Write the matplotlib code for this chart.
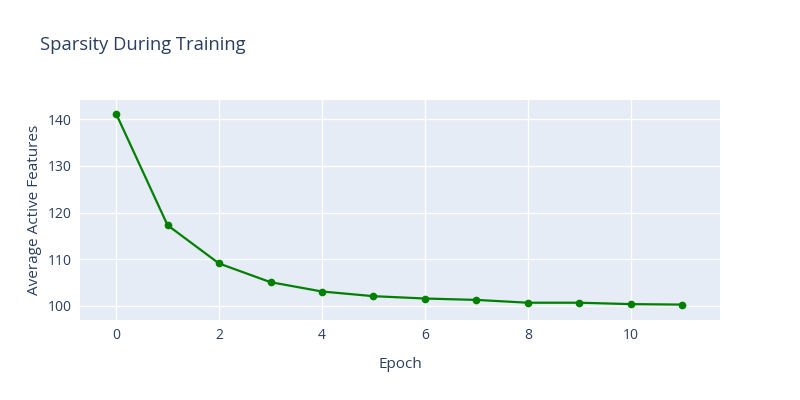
import matplotlib
matplotlib.use('Agg')
import matplotlib.pyplot as plt

plt.rcParams['font.family'] = ['Open Sans', 'DejaVu Sans']

epochs = [0, 1, 2, 3, 4, 5, 6, 7, 8, 9, 10, 11]
avg_active = [141.2, 117.3, 109.1, 105.1, 103.1, 102.1, 101.6, 101.3, 100.7, 100.7, 100.4, 100.3]

txt = '#2a3f5f'
fig = plt.figure(figsize=(8, 4), dpi=100)
ax = fig.add_axes([0.1, 0.2, 0.8, 0.55])
ax.set_facecolor('#E5ECF6')
ax.plot(epochs, avg_active, color='green', linewidth=1.6, marker='o', markersize=4.5, zorder=3)

ax.set_xlim(-0.7, 11.73)
ax.set_ylim(97.0, 144.1)
ax.set_xticks([0, 2, 4, 6, 8, 10])
ax.set_yticks([100, 110, 120, 130, 140])
ax.grid(color='white', linewidth=1)
ax.set_axisbelow(True)
for s in ax.spines.values():
    s.set_visible(False)
ax.tick_params(length=0, labelsize=10, colors=txt, pad=6)

ax.set_xlabel('Epoch', fontsize=11, color=txt, labelpad=10)
ax.set_ylabel('Average Active Features', fontsize=11, color=txt, labelpad=4)
fig.text(0.05, 0.888, 'Sparsity During Training', fontsize=13.2, color=txt, va='center')

fig.savefig('out.png')
